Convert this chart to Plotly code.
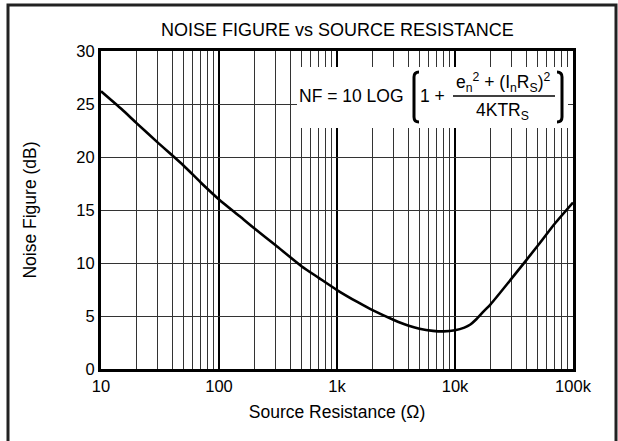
import plotly.graph_objects as go

# ---- data ----
rs = [10, 15, 20, 30, 50, 70, 100, 150, 200, 300, 500, 700, 1000, 1500, 2000,
      3000, 4000, 5000, 6500, 8000, 10000, 12000, 13500, 15000, 17000, 20000, 30000,
      50000, 70000, 100000]
nf = [26.2, 24.5, 23.2, 21.4, 19.2, 17.6, 16.0, 14.4, 13.25, 11.7, 9.7, 8.6, 7.45,
      6.3, 5.55, 4.65, 4.1, 3.8, 3.6, 3.55, 3.65, 3.9, 4.2, 4.65, 5.3, 6.1, 8.5, 11.6,
      13.7, 15.7]

x_tick_vals = [10, 100, 1000, 10000, 100000]
x_tick_text = ["10", "100", "1k", "10k", "100k"]
x_minor_vals = [m * d for d in [10, 100, 1000, 10000] for m in range(2, 10)]
y_tick_vals = [0, 5, 10, 15, 20, 25, 30]

W, H = 618, 441
L, R, T, B = 101, 573, 51, 369   # plot area in pixels

def px(x):
    return (x - L) / (R - L)

def py(y):
    return (B - y) / (B - T)

FONT = "Liberation Sans, Arial, Helvetica, sans-serif"

fig = go.Figure()
fig.add_trace(go.Scatter(x=rs, y=nf, mode="lines",
                         line=dict(color="black", width=2.6, shape="spline", smoothing=0.6),
                         hoverinfo="skip", showlegend=False))

fig.update_layout(
    width=W, height=H,
    margin=dict(l=L, r=W - R, t=T, b=H - B),
    paper_bgcolor="white", plot_bgcolor="white",
    font=dict(family=FONT, size=17, color="black"),
    showlegend=False,
    xaxis=dict(type="log", range=[1, 5], tickmode="array",
               tickvals=x_tick_vals, ticktext=x_tick_text,
               showgrid=True, gridcolor="black", gridwidth=2,
               minor=dict(tickmode="array", tickvals=x_minor_vals, showgrid=True,
                          gridcolor="#333", gridwidth=1, ticks=""),
               showline=True, mirror=True, linecolor="black", linewidth=3,
               ticks="", zeroline=False,
               tickfont=dict(size=16.5),
               title=dict(text="Source Resistance (Ω)", font=dict(size=17.5), standoff=12)),
    yaxis=dict(range=[0, 30], tickmode="array", tickvals=y_tick_vals,
               showgrid=True, gridcolor="#333", gridwidth=1,
               showline=True, mirror=True, linecolor="black", linewidth=3,
               ticks="", zeroline=False,
               tickfont=dict(size=16.5),
               title=dict(text="Noise Figure (dB)", font=dict(size=17.5), standoff=36)),
)

# outer frame
fig.add_shape(type="rect", xref="paper", yref="paper",
              x0=px(8), x1=px(616), y0=py(447), y1=py(5),
              line=dict(color="#222", width=3), fillcolor="rgba(0,0,0,0)", layer="above")

# title
fig.add_annotation(text="NOISE FIGURE vs SOURCE RESISTANCE", xref="paper", yref="paper",
                   x=px(337), y=py(30), showarrow=False, font=dict(size=18),
                   xanchor="center", yanchor="middle")

# formula box
fig.add_shape(type="rect", xref="paper", yref="paper",
              x0=px(297), x1=px(568), y0=py(128), y1=py(67),
              line=dict(width=0), fillcolor="white", layer="above")

fig.add_annotation(text="NF = 10 LOG", xref="paper", yref="paper",
                   x=px(351), y=py(96), showarrow=False, font=dict(size=17.5),
                   xanchor="center", yanchor="middle")
fig.add_annotation(text="1 +", xref="paper", yref="paper",
                   x=px(432), y=py(96), showarrow=False, font=dict(size=17.5),
                   xanchor="center", yanchor="middle")
fig.add_annotation(text="e<sub>n</sub><sup>2</sup> + (I<sub>n</sub>R<sub>S</sub>)<sup>2</sup>",
                   xref="paper", yref="paper",
                   x=px(503), y=py(82), showarrow=False, font=dict(size=17.5),
                   xanchor="center", yanchor="middle")
fig.add_annotation(text="4KTR<sub>S</sub>", xref="paper", yref="paper",
                   x=px(502), y=py(112), showarrow=False, font=dict(size=17.5),
                   xanchor="center", yanchor="middle")
# fraction bar
fig.add_shape(type="line", xref="paper", yref="paper",
              x0=px(453), x1=px(555), y0=py(96), y1=py(96),
              line=dict(color="black", width=1.5), layer="above")

# brackets
def bracket(xo, xi, yt, yb):
    return (f"M {px(xi)},{py(yt)} Q {px(xo)},{py(yt)} {px(xo)},{py(yt + 5)} "
            f"L {px(xo)},{py(yb - 5)} Q {px(xo)},{py(yb)} {px(xi)},{py(yb)}")

fig.add_shape(type="path", xref="paper", yref="paper", path=bracket(414, 419, 72, 122),
              line=dict(color="black", width=3), layer="above")
fig.add_shape(type="path", xref="paper", yref="paper", path=bracket(562, 557, 72, 122),
              line=dict(color="black", width=3), layer="above")

fig.write_html("out.html", config={"displayModeBar": False},
               post_script="document.body.style.margin='0';document.body.style.overflow='hidden';")
